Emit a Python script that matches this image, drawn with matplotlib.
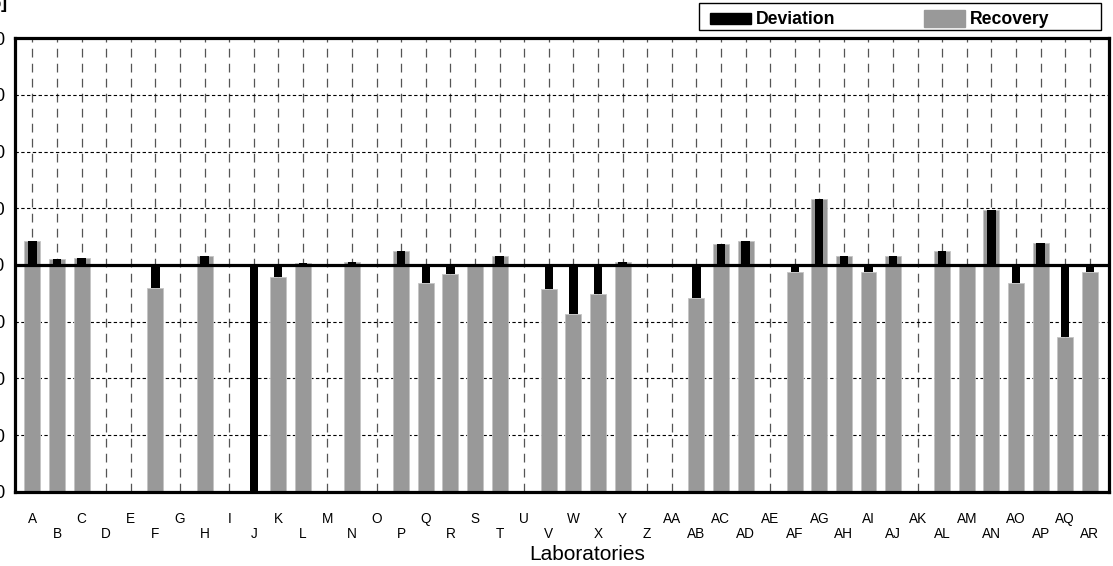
import numpy as np
import matplotlib
matplotlib.use("Agg")
import matplotlib.pyplot as plt
from matplotlib.patches import Rectangle, Patch
from matplotlib.legend_handler import HandlerPatch

plt.rcParams['font.family'] = ['Liberation Sans', 'DejaVu Sans']

# Laboratory codes A..AR
labs = ["A", "B", "C", "D", "E", "F", "G", "H", "I", "J", "K", "L", "M", "N", "O",
        "P", "Q", "R", "S", "T", "U", "V", "W", "X", "Y", "Z",
        "AA", "AB", "AC", "AD", "AE", "AF", "AG", "AH", "AI", "AJ", "AK",
        "AL", "AM", "AN", "AO", "AP", "AQ", "AR"]

# Recovery per laboratory in % (nan = no result reported)
recovery = [104.2, 101.1, 101.2, np.nan, np.nan, 95.9, np.nan, 101.5, np.nan, 57.0,
            97.8, 100.4, np.nan, 100.5, np.nan,
            102.5, 96.8, 98.5, 100.0, 101.5, np.nan, 95.8, 91.3, 94.8, 100.6, np.nan,
            np.nan, 94.1, 103.7, 104.2, np.nan, 98.7, 111.6, 101.5, 98.7, 101.5, np.nan,
            102.5, 100.0, 109.7, 96.8, 103.9, 87.3, 98.7]

target = 100.0
y_ticks = [60, 70, 80, 90, 100, 110, 120, 130, 140]

rec = np.array(recovery, dtype=float)
dev = rec - target
x = np.arange(len(labs))

W, H = 1113, 566
fig = plt.figure(figsize=(W / 100, H / 100), dpi=100)
ax = fig.add_axes([14.7 / W, 1 - 491.7 / H, (1109 - 14.7) / W, (491.7 - 38.3) / H])

gray = "#999999"
rec_bars = ax.bar(x, rec, width=0.65, color=gray, edgecolor="#c4c4c4",
                  linewidth=0.6, zorder=2)
dev_bars = ax.bar(x, dev, bottom=target, width=0.34, color="black", zorder=3)
ax.axhline(target, color="black", lw=2.3, zorder=4)

ax.set_xlim(-0.72, 43.78)
ax.set_ylim(y_ticks[0], y_ticks[-1])
ax.set_yticks(y_ticks)
ax.set_xticks(x)
ax.set_xticklabels([lab if i % 2 == 0 else "\n" + lab for i, lab in enumerate(labs)])
for lbl in ax.get_xticklabels():
    lbl.set_linespacing(1.1)

ax.set_axisbelow(True)
ax.yaxis.grid(True, linestyle=(0, (3, 2.2)), color="black", lw=0.8)
ax.xaxis.grid(True, linestyle=(0, (7, 5)), color="#555555", lw=0.9)

for s in ax.spines.values():
    s.set_linewidth(2.3)
    s.set_color("black")

ax.tick_params(axis="y", length=0, pad=6.8, labelsize=13)
ax.tick_params(axis="x", length=0, pad=14.3, labelsize=9.8)

ax.set_xlabel("Laboratories", fontsize=15)
ax.xaxis.set_label_coords((587 - 14.7) / 1094.3, -(545 - 491.7) / 453.4)

fig.text(7 / W, 1 - 8 / H, "[%]", ha="right", va="baseline",
         fontweight="bold", fontsize=13)


def make_handle(h):
    def patch_func(legend, orig_handle, xdescent, ydescent, width, height, fontsize):
        return Rectangle((-xdescent, -ydescent + (height - h) / 2), width, h)
    return patch_func


dev_proxy = Patch(facecolor="black", edgecolor="black")
rec_proxy = Patch(facecolor=gray, edgecolor=gray)
leg = fig.legend([dev_proxy, rec_proxy], ["Deviation", "Recovery"],
                 loc="center left", bbox_to_anchor=(710 / W, 1 - 20 / H),
                 ncol=2, frameon=False, borderpad=0, borderaxespad=0,
                 handlelength=2.3, handleheight=0.7, handletextpad=0.3,
                 columnspacing=5.05,
                 prop={"weight": "bold", "size": 12.7},
                 handler_map={dev_proxy: HandlerPatch(patch_func=make_handle(8)),
                              rec_proxy: HandlerPatch(patch_func=make_handle(12))})

fig.add_artist(Rectangle((699 / W, 1 - 29.5 / H), 402 / W, 26.5 / H,
                         transform=fig.transFigure, fill=False,
                         edgecolor="black", lw=1.0))

fig.savefig("out.png", dpi=100)
